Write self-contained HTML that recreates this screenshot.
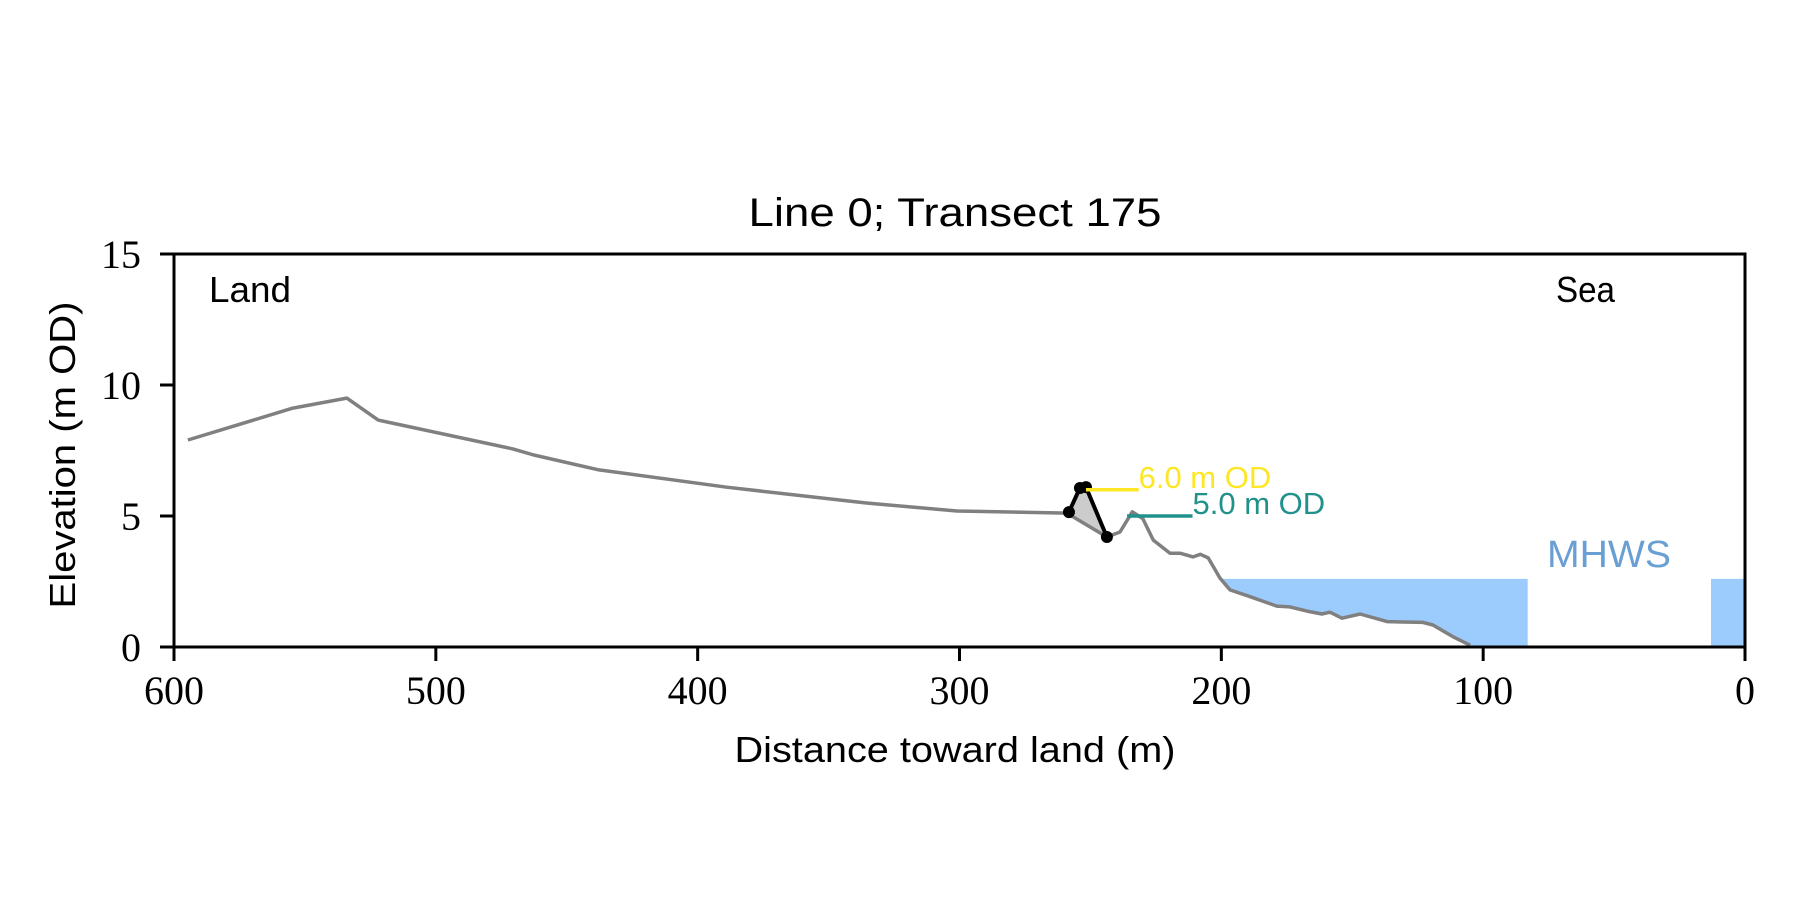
<!DOCTYPE html>
<html><head><meta charset="utf-8"><style>
html,body{margin:0;padding:0;background:#fff;}
svg{display:block;}
.sans{font-family:"Liberation Sans","DejaVu Sans",sans-serif;}
.serif{font-family:"Liberation Serif","DejaVu Serif",serif;}
</style></head><body>
<svg id="chart" width="1800" height="900" viewBox="0 0 1800 900" xmlns="http://www.w3.org/2000/svg">
<g id="plot"></g>
</svg>
<script>
// data
const profileDist = [594.7,554.6,534,522,470.6,462.6,437.7,388.9,336,301,259,243.7,238.7,234,230,226,219.6,215.8,210.8,208,205,200.5,196.7,189,178.8,173.8,167.3,161.6,158.5,153.9,147,136.7,123,119.2,111.5,105];
const profileElev = [7.9,9.12,9.5,8.66,7.56,7.33,6.76,6.1,5.5,5.19,5.11,4.2,4.39,5.16,4.9,4.08,3.58,3.58,3.44,3.54,3.4,2.63,2.18,1.92,1.56,1.53,1.37,1.26,1.33,1.1,1.26,0.97,0.94,0.84,0.39,0.07];
const cliffDist = [258.2,254,251.7,243.7];
const cliffElev = [5.15,6.07,6.1,4.2];
const mhwsLevel = 2.6;
const mhwsRanges = [[199.4,83],[13,0]];
const odLevels = [6.0,5.0];
const odLabels = ["6.0 m OD","5.0 m OD"];
const odStart = [251.7,236];
const odEnd = [231.6,211];
const xTicks = [600,500,400,300,200,100,0];
const yTicks = [0,5,10,15];

const L=174,R=1745,T=254,B=647;
const X=d=>R-(d/600)*(R-L);
const Y=e=>B-(e/15)*(B-T);
const NS="http://www.w3.org/2000/svg";
const g=document.getElementById('plot');
function mk(tag,attrs,parent){const el=document.createElementNS(NS,tag);for(const k in attrs)el.setAttribute(k,attrs[k]);(parent||g).appendChild(el);return el;}
function profAt(d){
  for(let i=0;i<profileDist.length-1;i++){
    const a=profileDist[i],b=profileDist[i+1];
    if(d<=a&&d>=b){const t=(a-d)/(a-b);return profileElev[i]+t*(profileElev[i+1]-profileElev[i]);}
  }
  return 0;
}
// MHWS fills
mhwsRanges.forEach((r,k)=>{
  const pts=[];
  for(let d=r[0];d>=r[1]-0.001;d-=0.5){pts.push([d,mhwsLevel]);}
  pts.push([r[1],mhwsLevel]);
  const low=[];
  for(let d=r[1];d<=r[0]+0.001;d+=0.5){low.push([d,Math.max(0,Math.min(mhwsLevel,profAt(d)))]);}
  low.push([r[0],Math.max(0,Math.min(mhwsLevel,profAt(r[0])))]);
  const all=pts.concat(low);
  const el=mk('polygon',{points:all.map(p=>X(p[0]).toFixed(1)+','+Y(p[1]).toFixed(1)).join(' '),fill:'#9ccbfd',stroke:'none'});
  
  
});
// cliff shading
{
  const pts=cliffDist.map((d,i)=>X(d).toFixed(1)+','+Y(cliffElev[i]).toFixed(1)).join(' ');
  const el=mk('polygon',{points:pts,fill:'#cccccc',stroke:'none'});
  
  
}
// profile line
{
  const el=mk('polyline',{points:profileDist.map((d,i)=>X(d).toFixed(1)+','+Y(profileElev[i]).toFixed(1)).join(' '),fill:'none',stroke:'#808080','stroke-width':3.5,'stroke-linejoin':'round'});
  
  
}
// cliff line + points
{
  const el=mk('polyline',{points:cliffDist.map((d,i)=>X(d).toFixed(1)+','+Y(cliffElev[i]).toFixed(1)).join(' '),fill:'none',stroke:'#000','stroke-width':4,'stroke-linejoin':'round'});
  
  
  cliffDist.forEach((d,i)=>{
    const c=mk('circle',{cx:X(d),cy:Y(cliffElev[i]),r:6,fill:'#000'});
    
    
  });
}
// OD lines
const odColors=['#fde725','#21918c'];
odLevels.forEach((lv,i)=>{
  const ln=mk('line',{x1:X(odStart[i]),x2:X(odEnd[i]),y1:Y(lv),y2:Y(lv),stroke:odColors[i],'stroke-width':3.5});
  
  
  const t=mk('text',{x:X(odEnd[i]),y:Y(lv)-2,fill:odColors[i],'font-size':31,class:'sans'});
  t.textContent=odLabels[i];
  
  
});
// axes spines
{
  const el=mk('rect',{x:L,y:T,width:R-L,height:B-T,fill:'none',stroke:'#000','stroke-width':3});
  
  
}
xTicks.forEach(v=>{
  const tk=mk('line',{x1:X(v),x2:X(v),y1:B,y2:B+14,stroke:'#000','stroke-width':3});
  
  
  const t=mk('text',{x:X(v),y:704,'text-anchor':'middle','font-size':40,class:'serif',fill:'#000'});
  t.textContent=v;
  
  
});
yTicks.forEach(v=>{
  const tk=mk('line',{x1:L-14,x2:L,y1:Y(v),y2:Y(v),stroke:'#000','stroke-width':3});
  
  
  const t=mk('text',{x:141,y:Y(v)+14,'text-anchor':'end','font-size':40,class:'serif',fill:'#000'});
  t.textContent=v;
  
  
});
function txt(s,attrs,name){const t=mk('text',Object.assign({class:'sans',fill:'#000'},attrs));t.textContent=s;return t;}
txt('Line 0; Transect 175',{x:955,y:226,'text-anchor':'middle','font-size':40,textLength:413,lengthAdjust:'spacingAndGlyphs'},'chart-title');
txt('Distance toward land (m)',{x:955,y:762,'text-anchor':'middle','font-size':36,textLength:441,lengthAdjust:'spacingAndGlyphs'},'x-axis-title');
txt('Elevation (m OD)',{x:0,y:0,'text-anchor':'middle','font-size':36,textLength:307,lengthAdjust:'spacingAndGlyphs',transform:'translate(75,455) rotate(-90)'},'y-axis-title');
txt('Land',{x:209,y:302,'font-size':36,textLength:82,lengthAdjust:'spacingAndGlyphs'},'land-label');
txt('Sea',{x:1556,y:302,'font-size':36,textLength:59,lengthAdjust:'spacingAndGlyphs'},'sea-label');
txt('MHWS',{x:1547,y:567,'font-size':38,fill:'#6a9fd4',textLength:124,lengthAdjust:'spacingAndGlyphs'},'mhws-label');
</script>
</body></html>
